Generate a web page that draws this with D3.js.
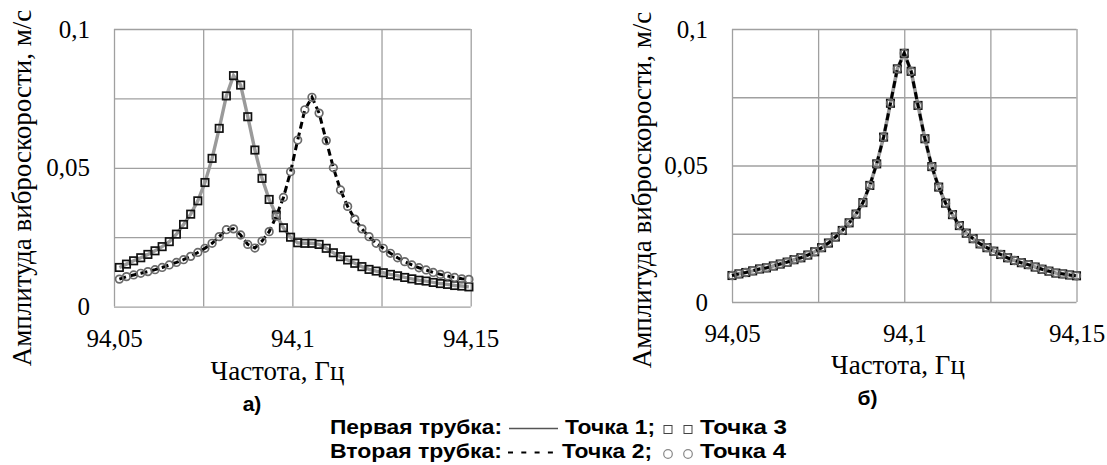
<!DOCTYPE html>
<html>
<head>
<meta charset="utf-8">
<script src="https://cdn.jsdelivr.net/npm/d3@7"></script>
<style>
  body { margin: 0; background: #fff; }
  svg { display: block; }
</style>
</head>
<body>
<svg id="chart" width="1107" height="465"></svg>
<script>
// Frequency grid of panel а) (Hz)
const freqA = [
  94.0515, 94.0535, 94.0555, 94.0575, 94.0595, 94.0615, 94.0635, 94.0655, 94.0675, 94.0695,
  94.0715, 94.0735, 94.0755, 94.0775, 94.0795, 94.0815, 94.0835, 94.0855, 94.0875, 94.0895,
  94.0915, 94.0935, 94.0955, 94.0975, 94.0995, 94.1015, 94.1035, 94.1055, 94.1075, 94.1095,
  94.1115, 94.1135, 94.1155, 94.1175, 94.1195, 94.1215, 94.1235, 94.1255, 94.1275, 94.1295,
  94.1315, 94.1335, 94.1355, 94.1375, 94.1395, 94.1415, 94.1435, 94.1455, 94.1475, 94.1495
];

// Panel а), first tube: Точка 1 (solid line) and Точка 3 (squares) coincide
const tube1A = [
  0.0141, 0.0153, 0.0165, 0.0176, 0.0188, 0.0201, 0.0216, 0.0234, 0.0261, 0.0296,
  0.0333, 0.0381, 0.0447, 0.0534, 0.0642, 0.0759, 0.0832, 0.0798, 0.0684, 0.0564,
  0.0462, 0.0386, 0.0330, 0.0284, 0.0250, 0.0230, 0.0228, 0.0228, 0.0224, 0.0210,
  0.0194, 0.0180, 0.0168, 0.0156, 0.0144, 0.0134, 0.0128, 0.0122, 0.0116, 0.0111,
  0.0105, 0.0100, 0.0095, 0.0092, 0.0087, 0.0083, 0.0080, 0.0076, 0.0074, 0.0071
];

// Panel а), second tube: Точка 2 (dashed line) and Точка 4 (circles) coincide
const tube2A = [
  0.0099, 0.0108, 0.0114, 0.0120, 0.0126, 0.0133, 0.0141, 0.0150, 0.0159, 0.0169,
  0.0181, 0.0195, 0.0210, 0.0228, 0.0252, 0.0277, 0.0280, 0.0258, 0.0224, 0.0211,
  0.0236, 0.0270, 0.0326, 0.0393, 0.0486, 0.0600, 0.0709, 0.0754, 0.0697, 0.0598,
  0.0500, 0.0420, 0.0361, 0.0315, 0.0280, 0.0252, 0.0228, 0.0210, 0.0192, 0.0176,
  0.0162, 0.0150, 0.0140, 0.0132, 0.0123, 0.0116, 0.0110, 0.0105, 0.0100, 0.0098
];

// Frequency grid of panel б) (Hz)
const freqB = [
  94.050, 94.052, 94.054, 94.056, 94.058, 94.060, 94.062, 94.064, 94.066, 94.068,
  94.070, 94.072, 94.074, 94.076, 94.078, 94.080, 94.082, 94.084, 94.086, 94.088,
  94.090, 94.092, 94.094, 94.096, 94.098, 94.100, 94.102, 94.104, 94.106, 94.108,
  94.110, 94.112, 94.114, 94.116, 94.118, 94.120, 94.122, 94.124, 94.126, 94.128,
  94.130, 94.132, 94.134, 94.136, 94.138, 94.140, 94.142, 94.144, 94.146, 94.148,
  94.150
];

// Panel б): all four points give the same curve
const ampB = [
  0.0097, 0.0103, 0.0108, 0.0114, 0.0121, 0.0125, 0.0132, 0.0139, 0.0146, 0.0155,
  0.0162, 0.0172, 0.0184, 0.0199, 0.0216, 0.0238, 0.0262, 0.0290, 0.0322, 0.0364,
  0.0427, 0.0506, 0.0604, 0.0728, 0.0854, 0.0911, 0.0845, 0.0720, 0.0598, 0.0496,
  0.0421, 0.0362, 0.0320, 0.0280, 0.0252, 0.0232, 0.0213, 0.0199, 0.0186, 0.0174,
  0.0162, 0.0152, 0.0144, 0.0137, 0.0128, 0.0120, 0.0113, 0.0106, 0.0103, 0.0099,
  0.0096
];

// Axis ticks and grid
const xTicks = [94.05, 94.1, 94.15];
const yTicks = [0, 0.05, 0.1];
const xGrid = [94.05, 94.075, 94.1, 94.125, 94.15];
const yGrid = [0, 0.025, 0.05, 0.075, 0.1];

const xTitle = 'Частота, Гц';
const yTitle = 'Амплитуда виброскорости, м/с';

const SERIF = '"Liberation Serif", "Times New Roman", serif';
const SANS = '"Liberation Sans", Arial, sans-serif';

const svg = d3.select('#chart');

// decimal comma, as in the original
const fmt = d => String(d).replace('.', ',');

function drawPanel(p) {
  const x = d3.scaleLinear().domain([94.05, 94.15]).range([p.left, p.right]);
  const y = d3.scaleLinear().domain([0, 0.1]).range([p.bottom, p.top]);
  const g = svg.append('g');

  // grid (outer lines make the frame)
  g.append('g')
    .attr('transform', `translate(0,${p.bottom})`)
    .call(d3.axisBottom(x).tickValues(xGrid).tickSize(-(p.bottom - p.top)).tickFormat(''))
    .call(a => a.select('.domain').remove())
    .selectAll('line').attr('stroke', '#a0a0a0').attr('stroke-width', 1.3);

  g.append('g')
    .attr('transform', `translate(${p.left},0)`)
    .call(d3.axisLeft(y).tickValues(yGrid).tickSize(-(p.right - p.left)).tickFormat(''))
    .call(a => a.select('.domain').remove())
    .selectAll('line').attr('stroke', '#a0a0a0').attr('stroke-width', 1.3);

  // tick labels
  const xa = g.append('g')
    .attr('transform', `translate(0,${p.bottom})`)
    .call(d3.axisBottom(x).tickValues(xTicks).tickSize(0).tickPadding(22.5).tickFormat(fmt));
  xa.select('.domain').remove();
  xa.selectAll('text').style('font-family', SERIF).style('font-size', '25px').attr('fill', '#000');

  const ya = g.append('g')
    .attr('transform', `translate(${p.left},0)`)
    .call(d3.axisLeft(y).tickValues(yTicks).tickSize(0).tickPadding(24).tickFormat(fmt));
  ya.select('.domain').remove();
  ya.selectAll('text').style('font-family', SERIF).style('font-size', '25px').attr('fill', '#000');

  // axis titles
  g.append('text')
    .attr('x', p.xTitleX).attr('y', p.xTitleY)
    .attr('text-anchor', 'middle')
    .style('font-family', SERIF).style('font-size', '27px')
    .text(xTitle);

  g.append('text')
    .attr('transform', `translate(${p.yTitleX},${p.yTitleY}) rotate(-90)`)
    .attr('text-anchor', 'middle')
    .style('font-family', SERIF).style('font-size', '27px')
    .text(yTitle);

  // panel caption а) / б)
  g.append('text')
    .attr('x', p.capX).attr('y', p.capY)
    .attr('text-anchor', 'middle')
    .style('font-family', SANS).style('font-weight', 'bold').style('font-size', '21px')
    .text(p.caption);

  // series
  p.series.forEach(s => {
    const pts = s.values.map((v, i) => [x(s.freq[i]), y(v)]);
    if (s.kind === 'line') {
      g.append('path')
        .attr('d', d3.line()(pts))
        .attr('fill', 'none')
        .attr('stroke', s.color)
        .attr('stroke-width', s.width)
        .attr('stroke-dasharray', s.dash || null);
    } else if (s.kind === 'square') {
      g.append('g').selectAll('rect').data(pts).join('rect')
        .attr('x', d => d[0] - 3.7).attr('y', d => d[1] - 3.7)
        .attr('width', 7.4).attr('height', 7.4)
        .attr('fill', 'none').attr('stroke', s.color).attr('stroke-width', 1.7);
    } else {
      g.append('g').selectAll('circle').data(pts).join('circle')
        .attr('cx', d => d[0]).attr('cy', d => d[1]).attr('r', 3.8)
        .attr('fill', 'none').attr('stroke', s.color).attr('stroke-width', 1.7);
    }
  });
}

drawPanel({
  left: 114, right: 470.7, top: 29, bottom: 306.6,
  xTitleX: 277.5, xTitleY: 380, yTitleX: 31, yTitleY: 188,
  caption: 'а)', capX: 252, capY: 411,
  series: [
    { kind: 'line', freq: freqA, values: tube1A, color: '#9a9a9a', width: 3.4 },
    { kind: 'square', freq: freqA, values: tube1A, color: '#111' },
    { kind: 'line', freq: freqA, values: tube2A, color: '#000', width: 3, dash: '7,4' },
    { kind: 'circle', freq: freqA, values: tube2A, color: '#6a6a6a' }
  ]
});

drawPanel({
  left: 732, right: 1076.5, top: 29, bottom: 302,
  xTitleX: 898, xTitleY: 374, yTitleX: 651, yTitleY: 190,
  caption: 'б)', capX: 867.5, capY: 405,
  series: [
    { kind: 'line', freq: freqB, values: ampB, color: '#9a9a9a', width: 3.6 },
    { kind: 'square', freq: freqB, values: ampB, color: '#111' },
    { kind: 'line', freq: freqB, values: ampB, color: '#000', width: 3, dash: '7,4' },
    { kind: 'circle', freq: freqB, values: ampB, color: '#6a6a6a' }
  ]
});

// legend at the bottom
const legend = svg.append('g')
  .style('font-family', SANS).style('font-weight', 'bold').style('font-size', '21px');

function legendText(txt, x, y, len) {
  legend.append('text').attr('x', x).attr('y', y)
    .attr('textLength', len).attr('lengthAdjust', 'spacingAndGlyphs')
    .text(txt);
}

// row 1: first tube
legendText('Первая трубка:', 330, 434, 172);
legend.append('line').attr('x1', 509).attr('x2', 558).attr('y1', 428.5).attr('y2', 428.5)
  .attr('stroke', '#555').attr('stroke-width', 1.5);
legendText('Точка 1;', 565, 434, 90);
[668, 688].forEach(cx => legend.append('rect')
  .attr('x', cx - 4).attr('y', 425.5).attr('width', 8).attr('height', 8)
  .attr('fill', 'none').attr('stroke', '#444').attr('stroke-width', 1));
legendText('Точка 3', 700, 434, 87);

// row 2: second tube
legendText('Вторая трубка:', 330, 458, 172);
legend.append('line').attr('x1', 508).attr('x2', 556).attr('y1', 452.5).attr('y2', 452.5)
  .attr('stroke', '#000').attr('stroke-width', 2.2).attr('stroke-dasharray', '5,8.3');
legendText('Точка 2;', 562, 458, 90);
[668, 688].forEach(cx => legend.append('circle')
  .attr('cx', cx).attr('cy', 454).attr('r', 4.3)
  .attr('fill', 'none').attr('stroke', '#888').attr('stroke-width', 1.2));
legendText('Точка 4', 700, 458, 86);
</script>
</body>
</html>
